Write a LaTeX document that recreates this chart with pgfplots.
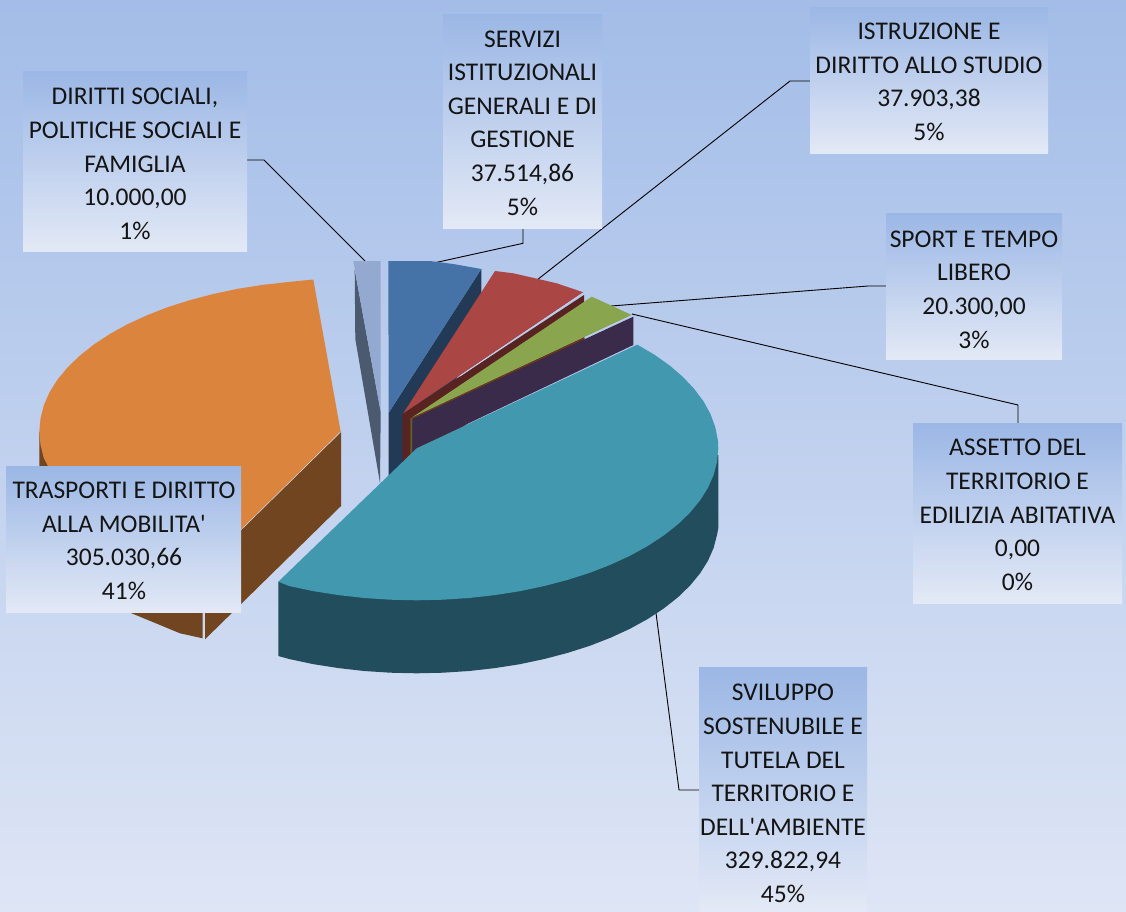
\documentclass[border=0pt]{standalone}
\usepackage{pgfplots}
\pgfplotsset{compat=1.18}
\usepackage{fontspec}
\setmainfont{Carlito}
\definecolor{bgT}{RGB}{163,189,232}
\definecolor{bgM}{RGB}{190,207,236}
\definecolor{bgB}{RGB}{222,229,245}
\definecolor{lbT}{RGB}{155,183,229}
\definecolor{lbM}{RGB}{189,205,236}
\definecolor{lbB}{RGB}{227,233,246}
\definecolor{blueT}{RGB}{69,115,167}
\definecolor{blueS}{RGB}{35,58,86}
\definecolor{redT}{RGB}{170,70,67}
\definecolor{redS}{RGB}{88,35,33}
\definecolor{greenT}{RGB}{137,165,78}
\definecolor{oliveS}{RGB}{90,96,48}
\definecolor{purpS}{RGB}{59,43,75}
\definecolor{tealT}{RGB}{65,152,175}
\definecolor{tealS}{RGB}{34,77,92}
\definecolor{orT}{RGB}{219,132,61}
\definecolor{orS}{RGB}{112,69,32}
\definecolor{ltT}{RGB}{147,169,207}
\definecolor{ltS}{RGB}{76,90,112}
\newcommand\lab[7]{%
  \addplot[draw=none,shade,top color=lbT,middle color=lbM,bottom color=lbB]
    coordinates {(#1,#2) (#3,#2) (#3,#4) (#1,#4) (#1,#2)};
  \node[align=center,inner sep=0pt,text=black!92,
        font=\fontsize{25.5}{33.6}\selectfont] at (axis cs:#5,#6) {#7};
}
\begin{document}
\begin{tikzpicture}
\begin{axis}[
  scale only axis,width=1126pt,height=911pt,
  xmin=0,xmax=1126,ymin=0,ymax=911,y dir=reverse,
  axis lines=none,clip=true,no marks]
% background
\addplot[draw=none,shade,top color=bgT,middle color=bgM,bottom color=bgB]
  coordinates {(0,0) (1126,0) (1126,911) (0,911) (0,0)};
% leader lines
\addplot[black,line width=0.9pt] coordinates {(247,160) (264,160) (365,261)};
\addplot[black,line width=0.9pt] coordinates {(523,228) (523,243.3) (435,262.7)};
\addplot[black,line width=0.9pt] coordinates {(810,81) (790,81) (537,280)};
\addplot[black,line width=0.9pt] coordinates {(886,286) (868,286) (611,306)};
\addplot[black,line width=0.9pt] coordinates {(1018,423) (1018,405) (632,314)};
\addplot[black,line width=0.9pt] coordinates {(699,790) (679,790) (656,613)};
% orange slice
\addplot[draw=none,fill=orS] coordinates {(39.3,431.7) (39.3,505) (43.8,531) (57.4,556.7) (79.7,580.7) (109.8,602.4) (131.7,613.3) (160,625) (180,633.3) (202.7,638.3) (202.7,560) (100,470)};
\addplot[draw=none,fill=orS] coordinates {(205,564) (205,639.3) (341,506) (341,431.7)};
\addplot[draw=none,fill=orT] coordinates {(313.3,279.5) (288.3,282) (262.6,284.9) (237.6,288.8) (213.2,294) (190,300.1) (167.7,307.2) (146.9,315.3) (127.6,324.2) (109.8,334) (93.9,344.5) (79.7,355.7) (67.6,367.4) (57.4,379.7) (49.5,392.3) (43.8,405.3) (40.5,418.5) (39.3,431.7) (40.5,444.9) (43.8,458.1) (57.4,483.7) (79.7,507.7) (109.8,529.4) (146.9,548.1) (190,563.3) (205,565) (340.7,431.7)};
\addplot[bgM!70!white,line width=0.5pt] coordinates {(340.7,431.9) (205,565.2)};
% light blue slice
\addplot[draw=none,fill=ltS] coordinates {(354.7,270) (355.3,339) (380,483) (380.7,412)};
\addplot[draw=none,fill=ltT] coordinates {(353.3,261) (380.7,261) (380.7,412)};
% blue slice
\addplot[draw=none,fill=blueS] coordinates {(481.3,269) (481.3,340) (388.7,484) (388.7,412.7)};
\addplot[draw=none,fill=blueT] coordinates {(388.3,261) (430,261) (453.3,264) (481.3,269) (388.7,412.7)};
% red slice
\addplot[draw=none,fill=redS] coordinates {(584,295) (584,340) (402.7,470) (402.7,414)};
\addplot[draw=none,fill=redT] coordinates {(495,271) (513.3,273.3) (538.3,279) (556.7,283.3) (583.3,292.3) (403.3,413.3)};
\addplot[bgM,line width=0.8pt] coordinates {(583.3,292.8) (460,376)};
% green and purple
\addplot[draw=none,fill=oliveS] coordinates {(410.3,418) (412.5,418) (412.5,455) (410.3,457)};
\addplot[draw=none,fill=purpS] coordinates {(633.3,316.7) (633.3,345) (416,448.3) (412.3,453) (412.3,419)};
\addplot[draw=none,fill=greenT] coordinates {(591.7,296.7) (611.7,305.7) (631.7,315) (411.7,417.7)};
\addplot[orS,line width=0.7pt] coordinates {(585,338) (412,418.5)};
\addplot[bgM,line width=0.8pt] coordinates {(585,337.6) (631.7,315.6)};
% teal slice
\addplot[draw=none,fill=tealS] coordinates {(718.3,455) (718.3,528) (717.1,534.5) (713.7,547.7) (708,560.7) (700.1,573.3) (690,585.6) (677.9,597.3) (663.7,608.5) (647.7,619) (629.9,628.8) (610.6,637.7) (589.8,645.8) (567.5,652.9) (544.3,659) (519.8,664.2) (494.8,668.1) (469.2,671) (442.9,672.7) (416.7,673.3) (390.4,672.7) (364.2,671) (338.6,668.1) (313.6,664.2) (289.1,659) (278.3,656) (278.3,581.7)};
\addplot[draw=none,fill=tealT] coordinates {(637.2,344.6) (654.4,354.7) (669.7,365.5) (683,377) (694.2,388.9) (703.5,401.3) (710.5,414.1) (715.3,427.2) (717.9,440.4) (718.3,448.3) (717.1,461.5) (713.7,474.7) (708,487.7) (700.1,500.3) (690,512.6) (677.9,524.3) (663.7,535.5) (647.7,546) (629.9,555.8) (610.6,564.7) (589.8,572.8) (567.5,579.9) (544.3,586) (519.8,591.2) (494.8,595.1) (469.2,598) (442.9,599.7) (416.7,600.3) (390.4,599.7) (364.2,598) (338.6,595.1) (313.6,591.2) (289.1,586) (278.3,581.7) (416.7,448.3)};
% labels
\lab{23}{71}{247}{251.7}{135}{164}{DIRITTI SOCIALI,\\POLITICHE SOCIALI E\\FAMIGLIA\\10.000,00\\1\%}
\lab{443}{14}{602}{228}{522.5}{123}{SERVIZI\\ISTITUZIONALI\\GENERALI E DI\\GESTIONE\\37.514,86\\5\%}
\lab{810}{7}{1048}{153}{929}{82}{ISTRUZIONE E\\DIRITTO ALLO STUDIO\\37.903,38\\5\%}
\lab{886}{213}{1062}{359}{974}{289.5}{SPORT E TEMPO\\LIBERO\\20.300,00\\3\%}
\lab{913}{423}{1122}{603}{1017.5}{515}{ASSETTO DEL\\TERRITORIO E\\EDILIZIA ABITATIVA\\0,00\\0\%}
\lab{699}{667}{867}{911}{783}{793.5}{SVILUPPO\\SOSTENUBILE E\\TUTELA DEL\\TERRITORIO E\\DELL\textquotesingle AMBIENTE\\329.822,94\\45\%}
\lab{6}{466}{241}{612.7}{124}{541}{TRASPORTI E DIRITTO\\ALLA MOBILITA\textquotesingle\\305.030,66\\41\%}
\end{axis}
\end{tikzpicture}
\end{document}
